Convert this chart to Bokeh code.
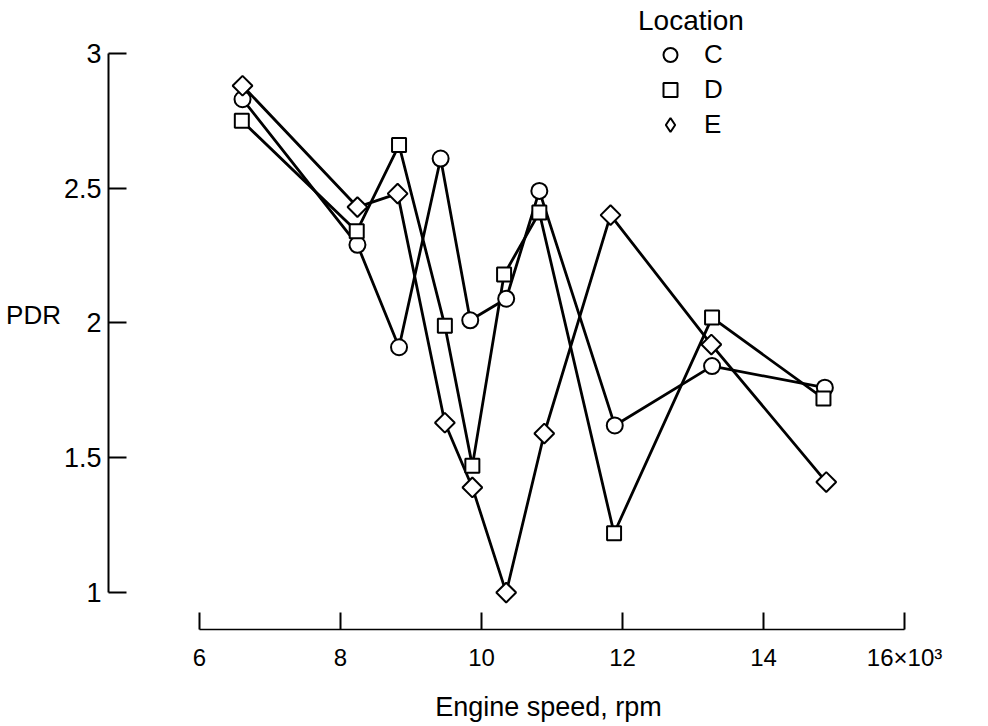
from bokeh.plotting import figure
from bokeh.models import Range1d, FixedTicker, NumeralTickFormatter, Legend, LegendItem
from bokeh.embed import file_html
from bokeh.resources import INLINE
import math

# ---- data ----
x_ticks = [6, 8, 10, 12, 14, 16]
y_ticks = [1, 1.5, 2, 2.5, 3]

c_x = [6.61, 8.24, 8.83, 9.42, 9.84, 10.35, 10.82, 11.89, 13.27, 14.87]
c_y = [2.83, 2.29, 1.91, 2.61, 2.01, 2.09, 2.49, 1.62, 1.84, 1.76]

d_x = [6.60, 8.23, 8.83, 9.48, 9.87, 10.32, 10.82, 11.88, 13.27, 14.85]
d_y = [2.75, 2.34, 2.66, 1.99, 1.47, 2.18, 2.41, 1.22, 2.02, 1.72]

e_x = [6.61, 8.24, 8.81, 9.48, 9.87, 10.35, 10.89, 11.83, 13.26, 14.89]
e_y = [2.88, 2.43, 2.48, 1.63, 1.39, 1.00, 1.59, 2.40, 1.92, 1.41]

FONT = "Liberation Sans"

x_start, x_end = 4.709, 17.191
y_start, y_end = 0.863, 3.1963

p = figure(width=988, height=724, output_backend="svg", toolbar_location=None,
           x_range=Range1d(x_start, x_end), y_range=Range1d(y_start, y_end),
           min_border_left=108, min_border_right=0, min_border_top=0,
           min_border_bottom=94)
p.xgrid.visible = False
p.ygrid.visible = False
p.outline_line_color = None
p.background_fill_color = "white"

# x axis
xa = p.xaxis[0]
xa.bounds = (6, 16)
xa.ticker = FixedTicker(ticks=x_ticks)
xa.major_label_overrides = {16: "16×10³"}
xa.major_tick_in = 17
xa.major_tick_out = 0
xa.minor_tick_in = 0
xa.minor_tick_out = 0
xa.axis_line_width = 1.5
xa.axis_line_color = "black"
xa.major_tick_line_width = 2
xa.major_tick_line_color = "black"
xa.major_label_text_font = FONT
xa.major_label_text_font_size = "24px"
xa.major_label_text_color = "black"
xa.major_label_standoff = 14
xa.axis_label = "Engine speed, rpm"
xa.axis_label_text_font = FONT
xa.axis_label_text_font_size = "27px"
xa.axis_label_text_font_style = "normal"
xa.axis_label_text_color = "black"
xa.axis_label_standoff = 18

# y axis
ya = p.yaxis[0]
ya.bounds = (1, 3)
ya.ticker = FixedTicker(ticks=y_ticks)
ya.formatter = NumeralTickFormatter(format="0.[0]")
ya.major_tick_in = 18
ya.major_tick_out = 0
ya.minor_tick_in = 0
ya.minor_tick_out = 0
ya.axis_line_width = 2
ya.axis_line_color = "black"
ya.major_tick_line_width = 2
ya.major_tick_line_color = "black"
ya.major_label_text_font = FONT
ya.major_label_text_font_size = "27px"
ya.major_label_text_color = "black"
ya.major_label_standoff = 7
ya.axis_label = "PDR"
ya.axis_label_orientation = "horizontal"
ya.axis_label_text_font = FONT
ya.axis_label_text_font_size = "26px"
ya.axis_label_text_font_style = "normal"
ya.axis_label_text_color = "black"
ya.axis_label_standoff = 0

# lines
for xs, ys in ((c_x, c_y), (d_x, d_y), (e_x, e_y)):
    p.line(xs, ys, line_color="black", line_width=2.8)

sc = p.scatter(c_x, c_y, marker="circle", size=16, fill_color="white",
               line_color="black", line_width=2)
sd = p.scatter(d_x, d_y, marker="square", size=14, fill_color="white",
               line_color="black", line_width=2)
# legend swatch for E (legend swatches are drawn unrotated, so use a diamond);
# zero size in the plot, hidden under the rotated squares drawn next
se_key = p.scatter(e_x, e_y, marker="diamond", size=0, fill_color="white",
                   line_color="black", line_width=2)
se = p.scatter(e_x, e_y, marker="square", size=14, angle=math.pi / 4,
               fill_color="white", line_color="black", line_width=2)

legend = Legend(items=[LegendItem(label="C", renderers=[sc]),
                       LegendItem(label="D", renderers=[sd]),
                       LegendItem(label="E", renderers=[se_key])],
                title="Location", location=(530, 487))
legend.title_text_font = FONT
legend.title_text_font_size = "28px"
legend.title_text_font_style = "normal"
legend.title_text_color = "black"
legend.title_standoff = 0
legend.label_text_font = FONT
legend.label_text_font_size = "26px"
legend.label_text_color = "black"
legend.glyph_width = 64
legend.glyph_height = 35
legend.label_standoff = 2
legend.spacing = 0
legend.padding = 0
legend.margin = 0
legend.border_line_color = None
legend.background_fill_alpha = 0
p.add_layout(legend)

open("out.html", "w").write(file_html(p, INLINE))
